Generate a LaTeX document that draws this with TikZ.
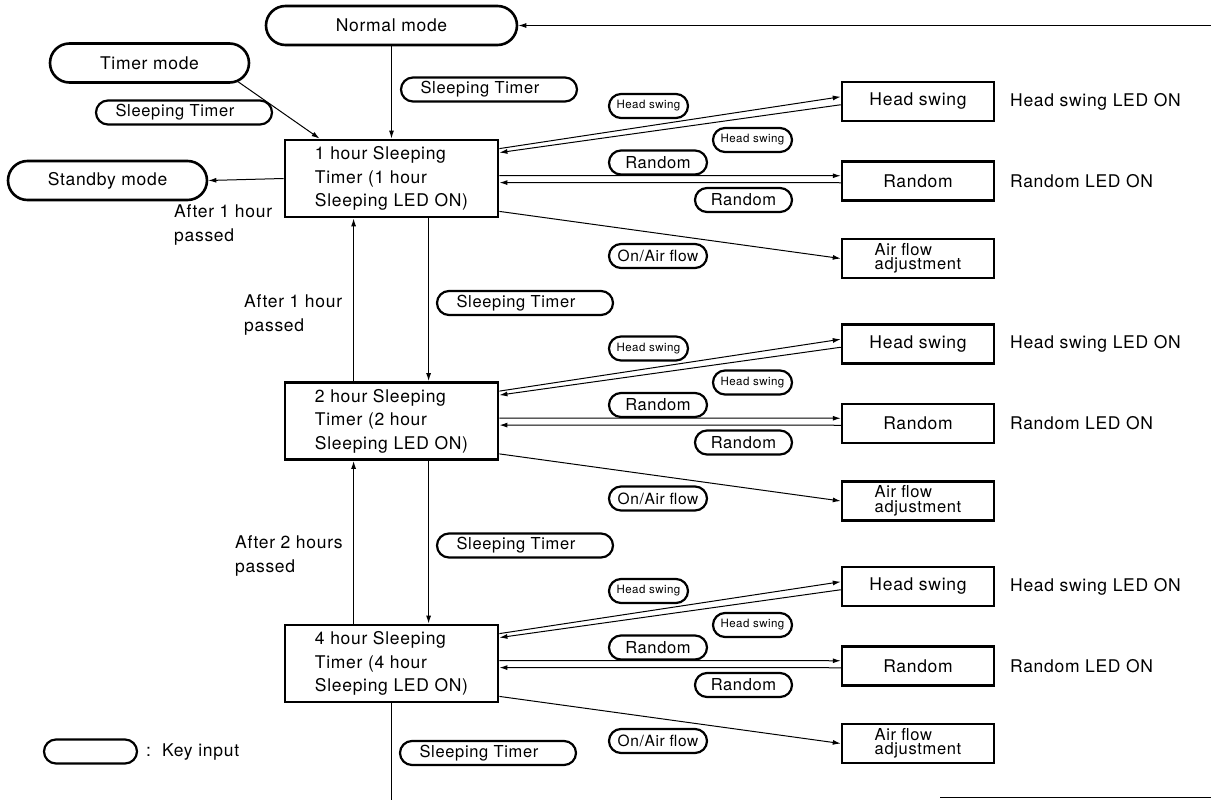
\documentclass[tikz,border=0pt]{standalone}
\usepackage{fontspec}
\setmainfont[LetterSpace=4]{TeX Gyre Heros}
\usetikzlibrary{shapes.misc,arrows.meta,calc}
\begin{document}
\begin{tikzpicture}[x=1pt,y=-1pt,
  every node/.style={font=\fontsize{17.5}{23.5}\selectfont},
  mode/.style={rounded rectangle, draw, line width=2.6pt, minimum height=39pt, minimum width=199pt, inner sep=0pt},
  keyin/.style={rounded rectangle, draw, line width=2.2pt, minimum height=24pt, inner sep=0pt, font=\fontsize{16.5}{18}\selectfont},
  smallkey/.style={keyin, minimum width=79pt, font=\fontsize{11.5}{13}\selectfont},
  tbox/.style={rectangle, draw, line width=2.8pt, minimum width=213pt, minimum height=77pt, align=left, inner sep=0pt},
  fbox/.style={rectangle, draw, line width=2.5pt, minimum width=152pt, minimum height=39pt, inner sep=0pt},
  lbl/.style={anchor=west, inner sep=0pt},
  lbltwo/.style={anchor=west, align=left, inner sep=0pt, font=\fontsize{17.5}{24}\selectfont},
  conn/.style={line width=1pt, -{Latex[length=8pt,width=5pt]}},
  wire/.style={line width=1pt}
]
\useasboundingbox (0,0) rectangle (1211,800);

% mode nodes
\node[mode, minimum width=251pt] (normal) at (391.5,25.5) {Normal mode};
\node[mode] (timer) at (149.5,63) {Timer mode};
\node[mode] (standby) at (107.5,180.5) {Standby mode};

% sleeping timer keys
\node[keyin, minimum width=176pt] (kA) at (184,112.5) {Sleeping Timer\hspace*{18pt}};
\node[keyin, minimum width=176pt] (kB) at (489,89.5) {Sleeping Timer\hspace*{18pt}};
\node[keyin, minimum width=176pt] (kC) at (525,303) {Sleeping Timer\hspace*{18pt}};
\node[keyin, minimum width=176pt] (kD) at (525,545.5) {Sleeping Timer\hspace*{18pt}};
\node[keyin, minimum width=176pt] (kE) at (488,753) {Sleeping Timer\hspace*{18pt}};

% after labels
\node[lbltwo] (la1) at (174,225) {After 1 hour\\passed};
\node[lbltwo] (la2) at (244,315) {After 1 hour\\passed};
\node[lbltwo] (la3) at (235,556) {After 2 hours\\passed};

% groups
\foreach \n/\d in {1/0,2/242.5,4/485}{
  \node[tbox] (b\n) at (391.5,178.5+\d) {\n{} hour Sleeping\\Timer (\n{} hour\\Sleeping LED ON)};
  \node[fbox] (hs\n) at (918,101.5+\d) {Head swing};
  \node[fbox] (r\n) at (918,181+\d) {Random};
  \node[fbox, align=left, font=\fontsize{16.5}{14.5}\selectfont] (af\n) at (918,258.5+\d) {Air flow\\adjustment};
  \node[lbl] (hsled\n) at (1010,101.5+\d) {Head swing LED ON};
  \node[lbl] (rled\n) at (1010,181+\d) {Random LED ON};
  \node[smallkey] (khsa\n) at (648.5,106+\d) {Head swing};
  \node[smallkey] (khsb\n) at (752.5,140+\d) {Head swing};
  \node[keyin, minimum width=98pt] (kra\n) at (658,162.5+\d) {Random};
  \node[keyin, minimum width=97pt] (krb\n) at (743.5,200+\d) {Random};
  \node[keyin, minimum width=98pt, font=\fontsize{15.5}{18}\selectfont] (koa\n) at (658,256+\d) {On/Air flow};
  \draw[conn] ([yshift=-10pt]b\n.north east) -- ([yshift=-16pt]hs\n.north west);
  \draw[conn] ([yshift=-24pt]hs\n.north west) -- ([yshift=-14pt]b\n.north east);
  \draw[conn] ([yshift=-37pt]b\n.north east) -- ([yshift=-15.5pt]r\n.north west);
  \draw[conn] ([yshift=-22.5pt]r\n.north west) -- ([yshift=-44pt]b\n.north east);
  \draw[conn] ([yshift=7pt]b\n.south east) -- (af\n.west);
}

% top connections
\draw[conn] (normal.south) -- (b1.north);
\draw[conn] (timer.-12) -- ([xshift=36pt]b1.north west);
\draw[conn] (b1.west) -- (standby.east);

% vertical between boxes
\foreach \a/\b in {1/2,2/4}{
  \draw[conn] ([xshift=70pt]b\b.north west) -- ([xshift=70pt]b\a.south west);
  \draw[conn] ([xshift=145pt]b\a.south west) -- ([xshift=145pt]b\b.north west);
}

% return loop to normal mode
\coordinate (retTop) at (1211,25.5);
\draw[conn] (retTop) -- (normal.east);
\coordinate (bot) at (391.5,800);
\draw[wire] (b4.south) -- (bot);
\coordinate (retA) at (940,797);
\coordinate (retB) at (1211,797);
\draw[wire] (retA) -- (retB);

% legend
\node[keyin, minimum width=93pt] (legend) at (90.5,751.5) {};
\node[lbl] (legtxt) at (146,752) {:\hspace*{11pt}Key input};
\end{tikzpicture}
\end{document}
